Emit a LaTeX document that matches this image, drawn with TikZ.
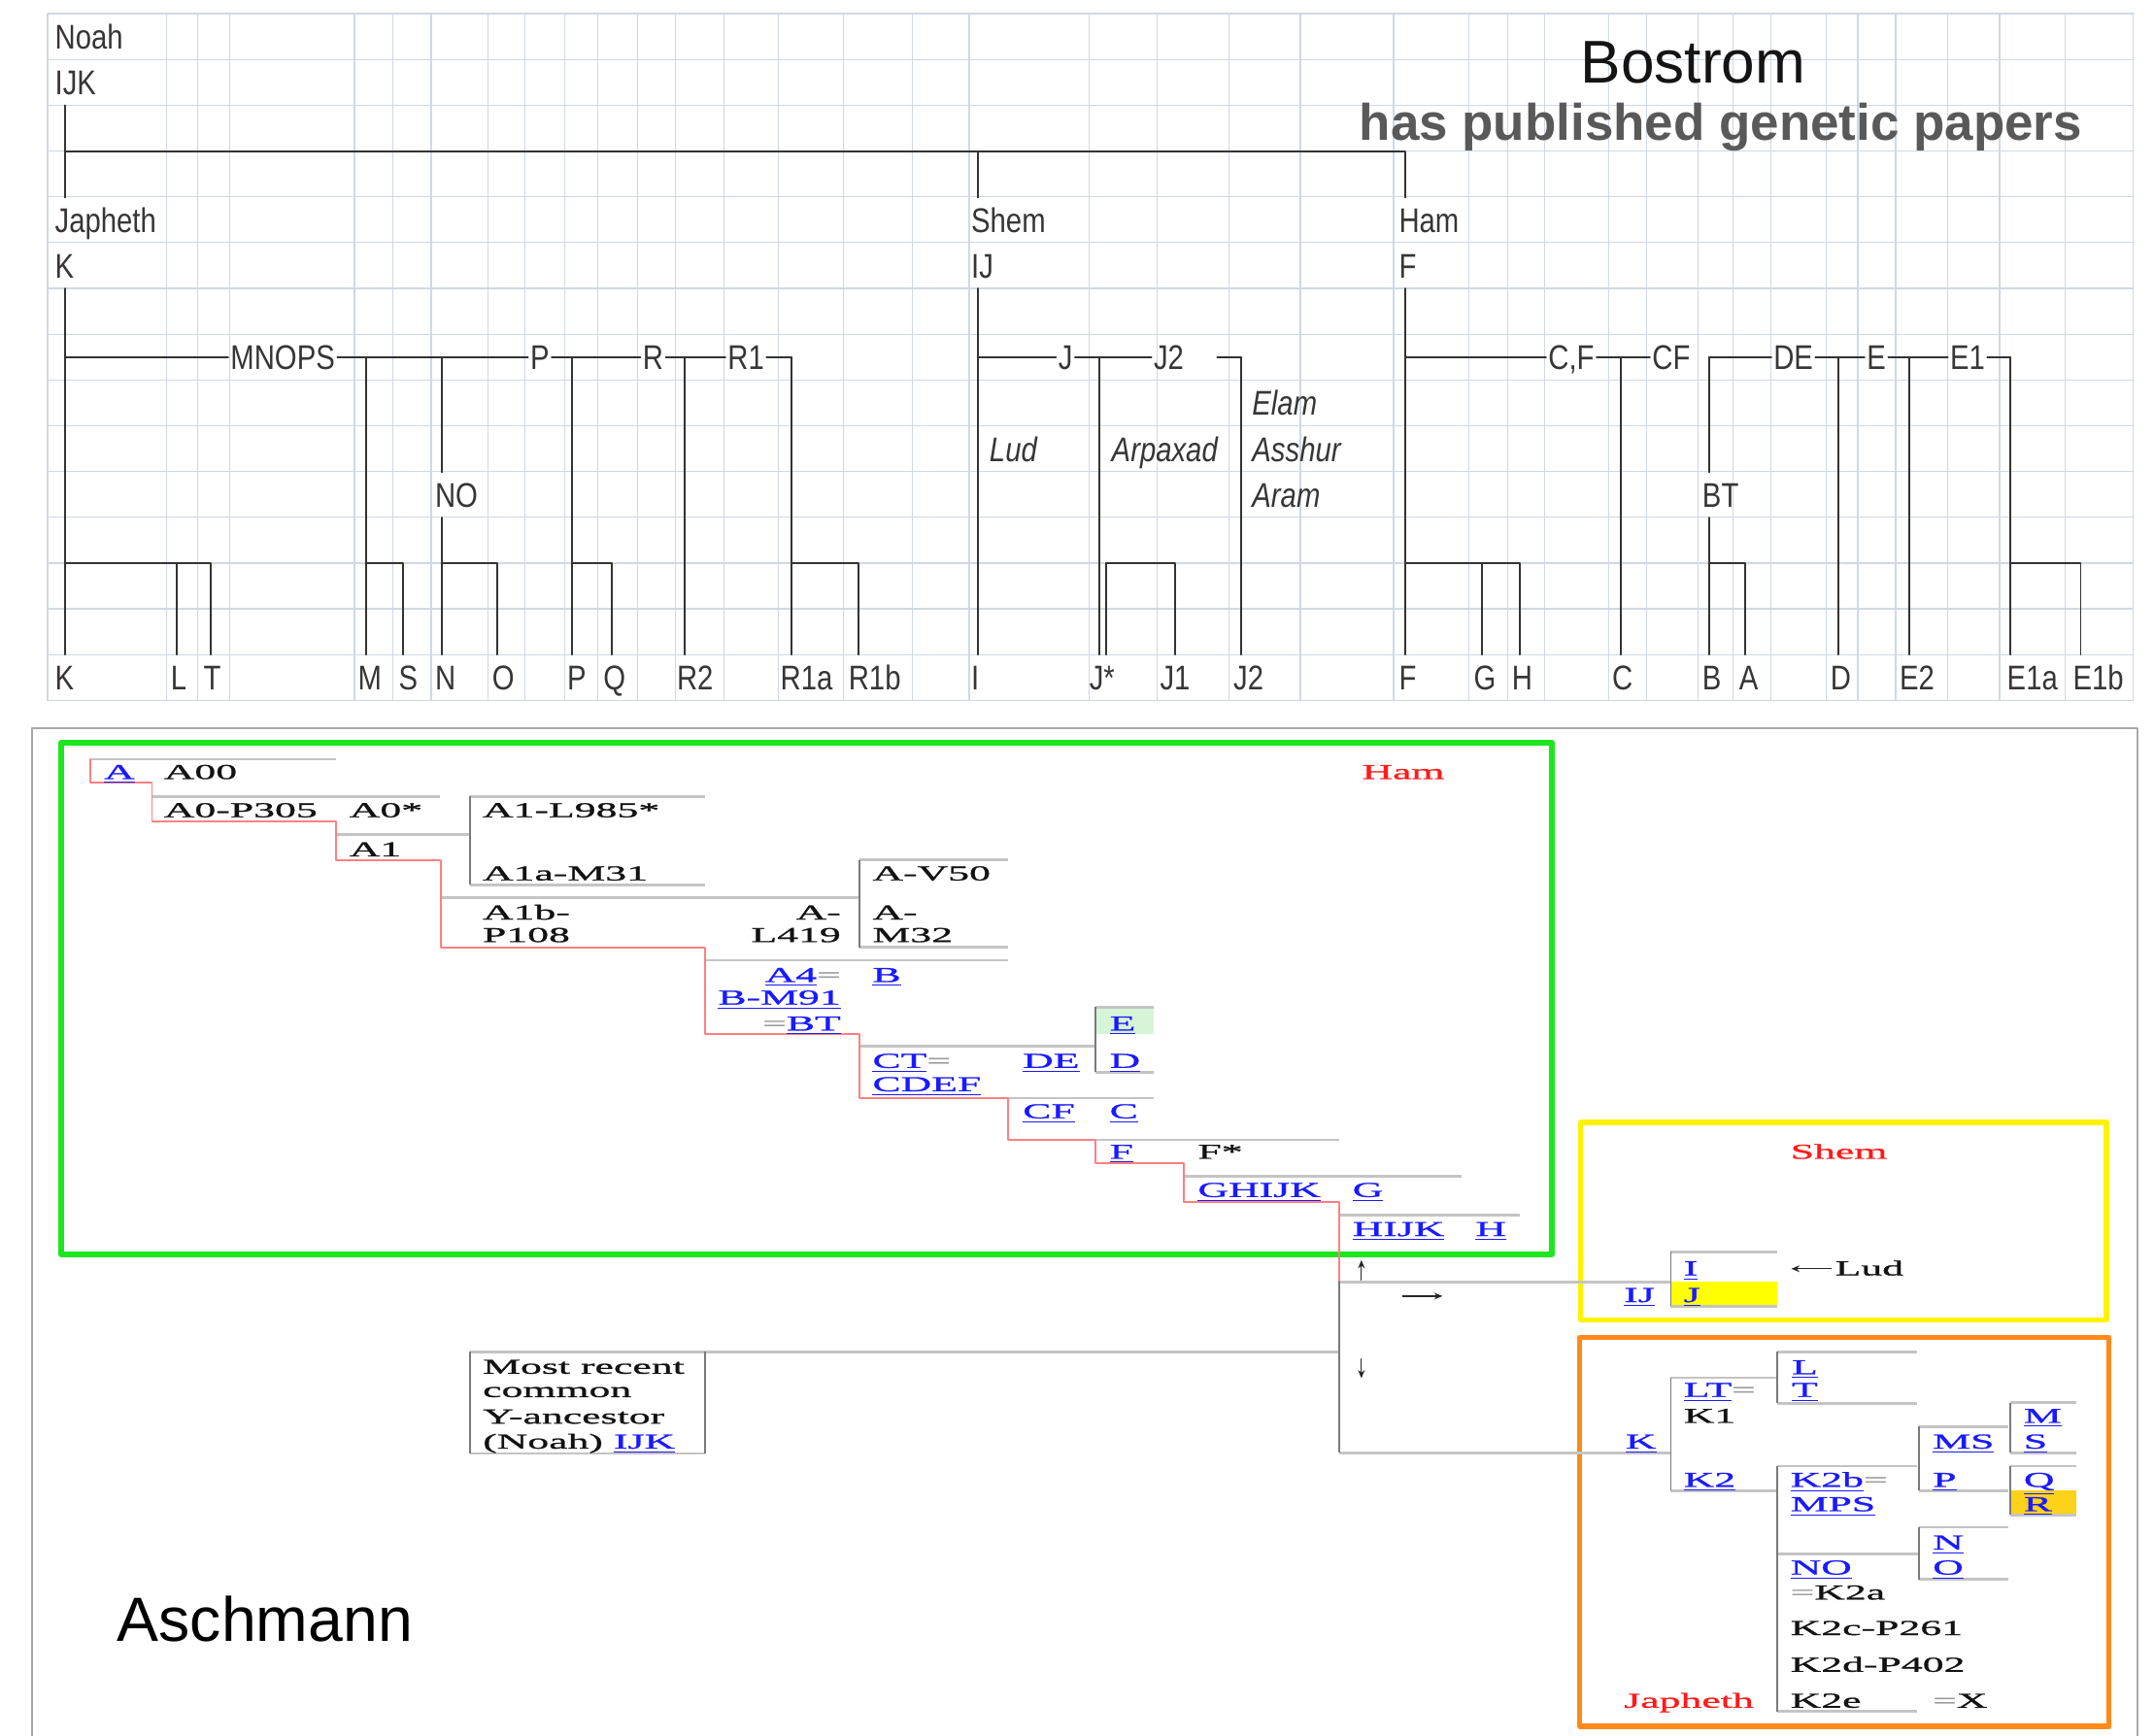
\documentclass[tikz,border=0pt]{standalone}
\usepackage{fontspec}
\usetikzlibrary{arrows.meta}
\newfontfamily\sansfnt{Liberation Sans}
\newfontfamily\narrowfnt[FakeStretch=0.83]{Liberation Sans}
\newfontfamily\widefnt[FakeStretch=2,FakeBold=1.2]{Liberation Serif}
\definecolor{gridblue}{HTML}{D0D8E3}
\definecolor{treegray}{HTML}{333333}
\definecolor{lblgray}{HTML}{363636}
\definecolor{subgray}{HTML}{595959}
\definecolor{rulegray}{HTML}{C4C4C4}
\definecolor{stemgray}{HTML}{7A7A7A}
\definecolor{outergray}{HTML}{A8A8A8}
\definecolor{lineagered}{HTML}{FF8080}
\definecolor{linkblue}{HTML}{1A1AFF}
\definecolor{eqgray}{HTML}{9A9A9A}
\definecolor{namered}{HTML}{FF1A1A}
\definecolor{framegreen}{HTML}{1EE61E}
\definecolor{frameyellow}{HTML}{FFF200}
\definecolor{frameorange}{HTML}{FF8A1A}
\definecolor{efill}{HTML}{D6F5D6}
\definecolor{jfill}{HTML}{FFFF00}
\definecolor{rfill}{HTML}{FFD21A}
\newcommand\lk[1]{{\color{linkblue}\underline{#1}}}
\newcommand\eqg{{\color{eqgray}=}}
\tikzset{
	gridline/.style={draw=gridblue,line width=0.5pt},
	treeline/.style={draw=treegray,line width=0.8pt},
	lbl/.style={font=\narrowfnt\fontsize{14.2}{17}\selectfont,text=lblgray,inner sep=0pt,anchor=base west},
	ital/.style={lbl,font=\narrowfnt\itshape\fontsize{14.2}{17}\selectfont},
	inl/.style={font=\narrowfnt\fontsize{14.2}{17}\selectfont,text=lblgray,inner xsep=0.8pt,inner ysep=0pt,text height=10.2pt,text depth=0pt,anchor=west},
	hap/.style={font=\widefnt\fontsize{8.8}{10.2}\selectfont,text=black!93,inner sep=0pt,anchor=base west},
	hapr/.style={hap,anchor=base east},
	rowrule/.style={draw=rulegray,line width=1.1pt,line cap=butt},
	stemline/.style={draw=stemgray,line width=0.7pt,line cap=butt},
	lineage/.style={draw=lineagered,line width=0.7pt},
	pointer/.style={draw=black!85,line width=0.5pt,-{Stealth[length=3.4pt,width=2.8pt]}},
	boxframe/.style={line width=2.2pt}
}
\begin{document}
\begin{tikzpicture}[>=stealth,line join=round,line cap=round,x=0.02cm,y=-0.02cm]
	\fill[white] (0,0) rectangle (1568,1264);
	\useasboundingbox (0,0) rectangle (1568,1264);
	% ===== Bostrom : grid
	\foreach \k in {0,...,15}{
		\draw[gridline] (34.7,{9.9+33.34*\k}) -- (1553,{9.9+33.34*\k});
	}
	\foreach \x in {34.7,121,143.7,167,258,286.2,313.8,355.2,382.3,411,435.3,464,491.9,526.8,566.7,614.2,664,705.6,792.7,842.1,894.6,946.5,1014.5,1069,1097.7,1124.4,1170.8,1198.5,1236.3,1261.5,1289.3,1329.6,1352.3,1380,1417.8,1455.6,1503.5,1553}{
		\draw[gridline] (\x,9.9) -- (\x,510);
	}
	% titles
	\node[font=\sansfnt\fontsize{25}{30}\selectfont,text=black!92,inner sep=0pt,anchor=base] (bostrom) at (1232.5,60.5) {Bostrom};
	\node[font=\sansfnt\bfseries\fontsize{21.3}{25}\selectfont,text=subgray,inner sep=0pt,anchor=base east] (papers) at (1516,102.5) {has published genetic papers};
	% Noah and the three sons
	\node[lbl] (noah) at (39.7,35.9) {Noah};
	\node[lbl] (ijk) at (39.7,69.2) {IJK};
	\node[lbl] (japheth) at (39.7,169.2) {Japheth};
	\node[lbl] (shem) at (706.7,169.2) {Shem};
	\node[lbl] (ham) at (1018,169.2) {Ham};
	\node[lbl] (hK) at (39.7,202.5) {K};
	\node[lbl] (hIJ) at (706.7,202.5) {IJ};
	\node[lbl] (hF) at (1018,202.5) {F};
	\draw[treeline] (47.1,76.7) -- (47.1,143.8) (47.1,110.2) -- (1023.1,110.2) -- (1023.1,143.8) (711.6,110.2) -- (711.6,143.8);
	% branch row
	\node[inl] (mnops) at (166.1,260.3) {MNOPS};
	\node[inl] (mP) at (384.3,260.3) {P};
	\node[inl] (mR) at (466.2,260.3) {R};
	\node[inl] (mR1) at (528,260.3) {R1};
	\node[inl] (mJ) at (768.7,260.3) {J};
	\node[inl] (mJ2) at (838.1,260.3) {J2};
	\node[inl] (mCcF) at (1125.4,260.3) {C,F};
	\node[inl] (mCF) at (1201,260.3) {CF};
	\node[inl] (mDE) at (1289.3,260.3) {DE};
	\node[inl] (mE) at (1357.3,260.3) {E};
	\node[inl] (mE1) at (1417.8,260.3) {E1};
	\draw[treeline] (47.1,260.3) -- (mnops.west) (mnops.east) -- (mP.west) (mP.east) -- (mR.west) (mR.east) -- (mR1.west) (mR1.east) -- (576.2,260.3);
	\draw[treeline] (711.6,260.3) -- (mJ.west) (mJ.east) -- (mJ2.west) (886,260.3) -- (903.6,260.3);
	\draw[treeline] (1023.1,260.3) -- (mCcF.west) (mCcF.east) -- (mCF.west) (1243.9,260.3) -- (mDE.west) (mDE.east) -- (mE.west) (mE.east) -- (mE1.west) (mE1.east) -- (1463.2,260.3);
	% names in between
	\node[ital] (lud) at (720,335.9) {Lud};
	\node[ital] (arpaxad) at (808.9,335.9) {Arpaxad};
	\node[ital] (elam) at (911.2,302.5) {Elam};
	\node[ital] (asshur) at (911.2,335.9) {Asshur};
	\node[ital] (aram) at (911.2,369.3) {Aram};
	\node[lbl] (mNO) at (316.4,369.3) {NO};
	\node[lbl] (mBT) at (1238.9,369.3) {BT};
	% stems
	\foreach \x in {47.1,711.6,1023.1}{
		\draw[treeline] (\x,210) -- (\x,476.6);
	}
	\foreach \x in {266.3,416.6,498.4,576.2,800.3,903.6,1179.9,1338.2,1390.1,1463.2}{
		\draw[treeline] (\x,260.3) -- (\x,476.6);
	}
	\foreach \x in {321.4,1243.9}{
		\draw[treeline] (\x,260.3) -- (\x,343.9) (\x,376.8) -- (\x,476.6);
	}
	% brackets
	\foreach \a/\b in {47.1/153.7,266.3/293.6,321.4/362,416.6/445.3,576.2/624.8,805.3/855.7,1023.1/1106.3,1243.9/1270.6,1463.2/1514.6}{
		\draw[treeline] (\a,409.7) -- (\b,409.7) -- (\b,476.6);
	}
	\foreach \x in {128.9,805.3,1078.6}{
		\draw[treeline] (\x,409.7) -- (\x,476.6);
	}
	% leaves
	\foreach \n/\x/\t in {K/39.7/K,L/124/L,T/147.8/T,M/260.3/M,S/290/S,N/316.4/N,O/358/O,P/412.6/P,Q/438.9/Q,R2/492.4/R2,R1a/567.8/R1a,R1b/617.4/R1b,I/706.7/I,Js/792.7/J*,J1/844.1/J1,J2/897.6/J2,F/1018/F,G/1072.5/G,H/1100.2/H,C/1173.3/C,B/1238.9/B,A/1265.6/A,D/1332.1/D,E2/1382.5/E2,E1a/1460.7/E1a,E1b/1508.6/E1b}{
		\node[lbl] (leaf\n) at (\x,502.5) {\t};
	}
	% ===== Aschmann
	\draw[outergray,line width=0.7pt] (23.3,1264) -- (23.3,530.2) -- (1556,530.2) -- (1556,1264);
	\draw[boxframe,framegreen] (44.6,540.8) rectangle (1129.7,913.2);
	\draw[boxframe,frameyellow] (1150.6,817.3) rectangle (1533.3,961.2);
	\draw[boxframe,frameorange] (1150,973.8) rectangle (1535,1257);
	% filled cells
	\fill[efill] (797.5,733.4) rectangle (839.8,752.9);
	\fill[jfill] (1216.2,933.3) rectangle (1293.6,951);
	\fill[rfill] (1463.3,1085.4) rectangle (1511.7,1103);
	% cell rules
	\foreach \a/\b/\y in {66/244.5/552.9,110.6/319.9/579.9,244.5/342.2/607.7,342.2/513.3/579.9,342.2/513.3/644.3,320.9/625.8/653.6,625.8/733.9/626.1,625.8/733.9/689.8,513.3/733.9/699.1,625.8/797.5/761.7,797.5/839.8/733.4,797.5/839.8/780.7,733.6/839.8/799.6,797.5/974.6/829.9,861.7/1063.8/856.4,974.6/1106.6/884.7,974.6/1216.2/933.3,1216.2/1293.6/911.5,1216.2/1293.6/951,342.2/974.6/984.3,342.2/513.3/1058.2,974.6/1216.2/1057.7,1216.2/1293.6/1003.2,1216.2/1293.6/1085.4,1293.6/1395.8/984.2,1293.6/1395.8/1021.8,1293.6/1395.8/1067.4,1293.6/1395.8/1246.1,1397/1462/1038.8,1397/1462/1085.4,1463.3/1511.7/1021.3,1463.3/1511.7/1057.7,1463.3/1511.7/1067.4,1463.3/1511.7/1103,1293.6/1397/1131.4,1397/1462/1112,1397/1462/1149.9}{
		\draw[rowrule] (\a,\y) -- (\b,\y);
	}
	\foreach \x/\ya/\yb in {342.2/579.9/644.3,625.8/626.1/689.8,797.5/733.4/780.7,974.6/932.5/1057.7,1216.2/911.5/951,342.2/984.3/1058.2,513.3/984.3/1058.2,1216.2/1003.2/1085.4,1293.6/984.2/1021.8,1293.6/1067.4/1246.1,1397/1038.8/1085.4,1463.3/1021.3/1057.7,1463.3/1067.4/1103,1397/1112/1149.9}{
		\draw[stemline] (\x,\ya) -- (\x,\yb);
	}
	% main line of descent
	\draw[lineage] (66,552.9) -- (66,569.8) -- (110.6,569.8) -- (110.6,598.1) -- (244.5,598.1) -- (244.5,626.1) -- (320.9,626.1) -- (320.9,689.8) -- (513.3,689.8) -- (513.3,752.9) -- (625.8,752.9) -- (625.8,799.6) -- (733.6,799.6) -- (733.6,829.9) -- (797.5,829.9) -- (797.5,846.8) -- (861.7,846.8) -- (861.7,875.3) -- (974.6,875.3) -- (974.6,932.5);
	% Ham box
	\node[hap,text=namered,anchor=base] (tHam) at (1021.5,567.2) {Ham};
	\node[hap] (tA) at (75.4,567.2) {\lk{A}};
	\node[hap] (tA00) at (119,567.2) {A00};
	\node[hap] (tA0) at (119,595) {A0-P305};
	\node[hap] (tA0s) at (254,595) {A0*};
	\node[hap] (tA1L) at (351,595) {A1-L985*};
	\node[hap] (tA1) at (254,623.5) {A1};
	\node[hap] (tA1a) at (351,641) {A1a-M31};
	\node[hap] (tA1b) at (351,669.5) {A1b-};
	\node[hap] (tP108) at (351,685.9) {P108};
	\node[hapr] (tAl) at (612.4,669.5) {A-};
	\node[hapr] (tL419) at (612.4,685.9) {L419};
	\node[hap] (tV50) at (634.8,641) {A-V50};
	\node[hap] (tAm) at (634.8,669.5) {A-};
	\node[hap] (tM32) at (634.8,685.9) {M32};
	\node[hapr] (tA4) at (612.4,715) {\lk{A4}\eqg};
	\node[hap] (tB) at (634.8,715) {\lk{B}};
	\node[hapr] (tBM91) at (612.4,731.4) {\lk{B-M91}};
	\node[hapr] (tBT) at (612.4,750.3) {\eqg\lk{BT}};
	\node[hap] (tE) at (807.4,750.3) {\lk{E}};
	\node[hap] (tCT) at (634.8,777.5) {\lk{CT}\eqg};
	\node[hap] (tCDEF) at (634.8,794.5) {\lk{CDEF}};
	\node[hap] (tDE) at (744.2,777.5) {\lk{DE}};
	\node[hap] (tD) at (807.4,777.5) {\lk{D}};
	\node[hap] (tCF) at (744.2,814.2) {\lk{CF}};
	\node[hap] (tC) at (807.4,814.2) {\lk{C}};
	\node[hap] (tF) at (807.4,843.7) {\lk{F}};
	\node[hap] (tFs) at (871.6,843.7) {F*};
	\node[hap] (tGHIJK) at (871.6,871.5) {\lk{GHIJK}};
	\node[hap] (tG) at (984.2,871.5) {\lk{G}};
	\node[hap] (tHIJK) at (984.2,900) {\lk{HIJK}};
	\node[hap] (tH) at (1073.7,900) {\lk{H}};
	% junction arrows
	\path (991,932) coordinate (upA) (991,917.5) coordinate (upB)
		(1021,943.7) coordinate (rtA) (1050,943.7) coordinate (rtB)
		(991,989.5) coordinate (dnA) (991,1003.5) coordinate (dnB);
	\draw[pointer] (upA) -- (upB);
	\draw[pointer] (rtA) -- (rtB);
	\draw[pointer] (dnA) -- (dnB);
	% Shem box
	\node[hap,text=namered,anchor=base] (tShem) at (1338.6,843.7) {Shem};
	\node[hap] (tIJ) at (1181.8,948) {\lk{IJ}};
	\node[hap] (tI) at (1225.3,928.6) {\lk{I}};
	\node[hap] (tJ) at (1225.3,948) {\lk{J}};
	\node[hap] (tLud) at (1335.5,928.6) {Lud};
	\coordinate (ludtail) at (1333,923.8);
	\draw[pointer] (ludtail) -- ++(-29,0);
	% root
	\node[hap] (tMost) at (351.1,1000.2) {Most recent};
	\node[hap] (tCommon) at (351.1,1017.2) {common};
	\node[hap] (tYanc) at (351.1,1036.5) {Y-ancestor};
	\node[hap] (tNoah) at (351.1,1054.7) {(Noah) \lk{IJK}};
	% Japheth box
	\node[hap] (tK) at (1183,1054.7) {\lk{K}};
	\node[hap] (tLT) at (1225.3,1017.1) {\lk{LT}\eqg};
	\node[hap] (tK1) at (1225.3,1036) {K1};
	\node[hap] (tK2) at (1225.3,1082.6) {\lk{K2}};
	\node[hap] (tL) at (1304,1000.6) {\lk{L}};
	\node[hap] (tT) at (1304,1017.1) {\lk{T}};
	\node[hap] (tK2b) at (1303,1082.6) {\lk{K2b}\eqg};
	\node[hap] (tMPS) at (1303,1100.3) {\lk{MPS}};
	\node[hap] (tMS) at (1406.6,1054.7) {\lk{MS}};
	\node[hap] (tP) at (1406.6,1082.6) {\lk{P}};
	\node[hap] (tM) at (1472.8,1036) {\lk{M}};
	\node[hap] (tS) at (1472.8,1054.7) {\lk{S}};
	\node[hap] (tQ) at (1472.8,1082.6) {\lk{Q}};
	\node[hap] (tR) at (1472.8,1100.3) {\lk{R}};
	\node[hap] (tN) at (1406.6,1128.2) {\lk{N}};
	\node[hap] (tO) at (1406.6,1146.4) {\lk{O}};
	\node[hap] (tNO) at (1303,1146.4) {\lk{NO}};
	\node[hap] (tK2a) at (1303,1164.6) {\eqg K2a};
	\node[hap] (tK2c) at (1303,1190.5) {K2c-P261};
	\node[hap] (tK2d) at (1303,1217.2) {K2d-P402};
	\node[hap] (tK2e) at (1303,1243.4) {K2e};
	\node[hap] (tX) at (1406.6,1243.4) {\eqg X};
	\node[hap,text=namered] (tJaph) at (1181.8,1243.4) {Japheth};
	% caption
	\node[font=\sansfnt\fontsize{25.9}{30}\selectfont,inner sep=0pt,anchor=base west] (aschmann) at (85,1195.2) {Aschmann};
\end{tikzpicture}
\end{document}
